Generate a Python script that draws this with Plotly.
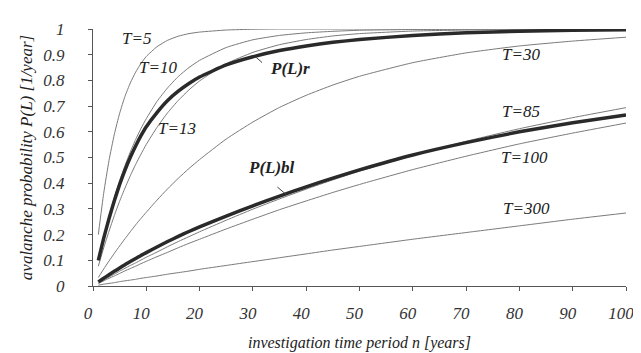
import plotly.graph_objects as go

# investigation period n [years]
n_years = [1, 2, 3, 4, 5, 6, 7, 8, 9, 10, 12, 14, 16, 18, 20, 25, 30, 35, 40, 45, 50, 60, 70, 80, 90, 100]

p_T5 = [0.200, 0.360, 0.488, 0.590, 0.672, 0.738, 0.790, 0.832, 0.866, 0.893, 0.931, 0.956, 0.972, 0.982,
        0.988, 0.996, 0.999, 1.000, 1.000, 1.000, 1.000, 1.000, 1.000, 1.000, 1.000, 1.000]
p_T10 = [0.100, 0.190, 0.271, 0.344, 0.410, 0.469, 0.522, 0.570, 0.613, 0.651, 0.718, 0.771, 0.815, 0.850,
         0.878, 0.928, 0.958, 0.975, 0.985, 0.991, 0.995, 0.998, 0.999, 1.000, 1.000, 1.000]
p_T13 = [0.077, 0.148, 0.213, 0.274, 0.330, 0.381, 0.429, 0.473, 0.513, 0.551, 0.617, 0.674, 0.722, 0.763,
         0.798, 0.865, 0.909, 0.939, 0.959, 0.973, 0.982, 0.992, 0.996, 0.998, 0.999, 1.000]
p_T30 = [0.033, 0.066, 0.097, 0.127, 0.156, 0.184, 0.211, 0.238, 0.263, 0.287, 0.334, 0.378, 0.419, 0.457,
         0.492, 0.572, 0.638, 0.695, 0.742, 0.782, 0.816, 0.869, 0.907, 0.934, 0.953, 0.968]
p_T85 = [0.012, 0.023, 0.035, 0.046, 0.058, 0.069, 0.080, 0.090, 0.101, 0.112, 0.132, 0.153, 0.173, 0.192,
         0.211, 0.256, 0.299, 0.339, 0.377, 0.413, 0.447, 0.508, 0.563, 0.612, 0.655, 0.694]
p_T100 = [0.010, 0.020, 0.030, 0.039, 0.049, 0.059, 0.068, 0.077, 0.087, 0.096, 0.114, 0.131, 0.149, 0.166,
          0.182, 0.222, 0.260, 0.297, 0.331, 0.364, 0.395, 0.453, 0.505, 0.553, 0.595, 0.634]
p_T300 = [0.003, 0.007, 0.010, 0.013, 0.017, 0.020, 0.023, 0.026, 0.030, 0.033, 0.039, 0.046, 0.052, 0.058,
          0.065, 0.080, 0.095, 0.110, 0.125, 0.140, 0.154, 0.182, 0.208, 0.234, 0.260, 0.284]
p_Lr = [0.100, 0.185, 0.262, 0.332, 0.395, 0.451, 0.501, 0.545, 0.585, 0.620, 0.675, 0.722, 0.758, 0.788,
        0.813, 0.860, 0.892, 0.916, 0.934, 0.948, 0.959, 0.975, 0.985, 0.991, 0.995, 0.997]
p_Lbl = [0.016, 0.030, 0.044, 0.057, 0.070, 0.083, 0.095, 0.107, 0.119, 0.130, 0.152, 0.173, 0.193, 0.212,
         0.230, 0.272, 0.312, 0.350, 0.386, 0.420, 0.452, 0.510, 0.558, 0.600, 0.635, 0.665]

thin_series = [("T=5", p_T5), ("T=10", p_T10), ("T=13", p_T13), ("T=30", p_T30),
               ("T=85", p_T85), ("T=100", p_T100), ("T=300", p_T300)]
thick_series = [("P(L)r", p_Lr), ("P(L)bl", p_Lbl)]

# label positions (data coords)
label_names = ["T=5", "T=10", "T=13", "T=30", "T=85", "T=100", "T=300"]
label_x = [8.1, 12.2, 15.8, 80.3, 80.3, 81.0, 81.4]
label_y = [0.962, 0.852, 0.612, 0.900, 0.680, 0.500, 0.300]
bold_names = ["P(L)r", "P(L)bl"]
bold_x = [37.0, 33.4]
bold_y = [0.848, 0.462]
arrow_tip_x = [30.6, 36.2]
arrow_tip_y = [0.890, 0.357]
arrow_tail_x = [32.0, 34.3]
arrow_tail_y = [0.864, 0.390]

FONT = "Liberation Serif"
fig = go.Figure()
for name, ys in thin_series:
    fig.add_trace(go.Scatter(x=n_years, y=ys, mode="lines", name=name,
                             line=dict(color="#7a7a7a", width=1, shape="spline", smoothing=0.5)))
for name, ys in thick_series:
    fig.add_trace(go.Scatter(x=n_years, y=ys, mode="lines", name=name,
                             line=dict(color="#2a2a2a", width=3.5, shape="spline", smoothing=0.5)))

for t, x, y in zip(label_names, label_x, label_y):
    fig.add_annotation(x=x, y=y, text=t, showarrow=False,
                       font=dict(family=FONT, size=17, color="#222", style="italic"))
for t, x, y in zip(bold_names, bold_x, bold_y):
    fig.add_annotation(x=x, y=y, text="<b>" + t + "</b>", showarrow=False,
                       font=dict(family=FONT, size=17, color="#222", style="italic"))
for tx, ty, ax, ay in zip(arrow_tip_x, arrow_tip_y, arrow_tail_x, arrow_tail_y):
    fig.add_annotation(x=tx, y=ty, ax=ax, ay=ay, axref="x", ayref="y", text="",
                       showarrow=True, arrowhead=0, arrowwidth=1, arrowcolor="#444")

tickfont = dict(family=FONT, size=17, color="#333", style="italic")
fig.update_layout(
    width=641, height=353,
    margin=dict(l=85, r=23, t=21, b=69),
    paper_bgcolor="white", plot_bgcolor="white",
    showlegend=False,
    xaxis=dict(range=[0, 100], dtick=10, tick0=0, showgrid=False, zeroline=False,
               showline=True, linecolor="#555", linewidth=1,
               ticks="outside", ticklen=4, tickcolor="#555", tickfont=tickfont,
               ticklabelstandoff=8, ticklabelshift=-5,
               title=dict(text="investigation time period n [years]", standoff=14,
                          font=dict(family=FONT, size=16, color="#222", style="italic"))),
    yaxis=dict(range=[0, 1], dtick=0.1, tick0=0, showgrid=False, zeroline=False,
               showline=True, linecolor="#555", linewidth=1,
               ticks="outside", ticklen=4, tickcolor="#555", tickfont=tickfont,
               ticklabelstandoff=20,
               title=dict(text="avalanche probability P(L) [1/year]", standoff=6,
                          font=dict(family=FONT, size=17, color="#222", style="italic"))),
    xaxis2=dict(range=[0, 100], dtick=10, tick0=0, overlaying="x", side="bottom", anchor="y",
                showgrid=False, zeroline=False, showline=False, ticks="inside", ticklen=4,
                tickcolor="#555", showticklabels=False),
    yaxis2=dict(range=[0, 1], dtick=0.1, tick0=0, overlaying="y", side="left", anchor="x",
                showgrid=False, zeroline=False, showline=False, ticks="inside", ticklen=4,
                tickcolor="#555", showticklabels=False),
)
fig.write_html("out.html")
